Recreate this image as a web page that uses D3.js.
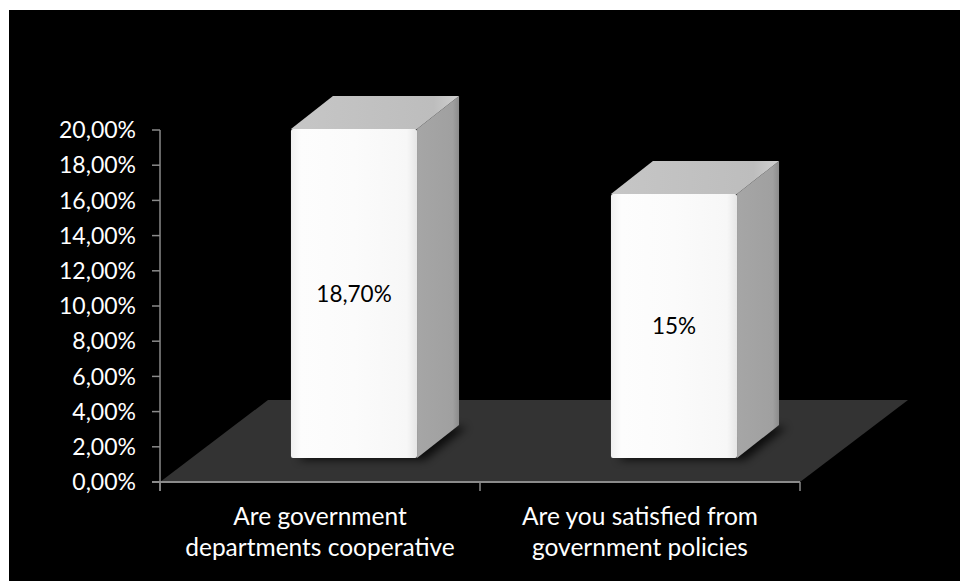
<!DOCTYPE html>
<html>
<head>
<meta charset="utf-8">
<script src="https://cdn.jsdelivr.net/npm/d3@7"></script>
<style>
  html, body { margin: 0; padding: 0; background: #ffffff; }
  svg { display: block; }
  text { font-family: "Lato", "Open Sans", sans-serif; }
</style>
</head>
<body>
<svg id="chart" width="960" height="581"></svg>
<script>
// Survey results
const categories = [
  ["Are government", "departments cooperative"],
  ["Are you satisfied from", "government policies"]
];
const values = [18.7, 15];
const valueLabels = ["18,70%", "15%"];
const yTicks = [0, 2, 4, 6, 8, 10, 12, 14, 16, 18, 20];
const yTickLabels = ["0,00%", "2,00%", "4,00%", "6,00%", "8,00%", "10,00%", "12,00%", "14,00%", "16,00%", "18,00%", "20,00%"];

const svg = d3.select("#chart");
const W = 960, H = 581;

// panel
svg.append("rect").attr("x", 9).attr("y", 10).attr("width", W - 9).attr("height", H - 10).attr("fill", "#000");

const x = d3.scaleBand().domain(d3.range(categories.length)).range([160, 800]).padding(0);
const y = d3.scaleLinear().domain([0, 20]).range([482, 130]);

// perspective offsets (floor depth, bar front plane, bar depth)
const floorDx = 108, floorDy = -82;
const frontDx = 34, frontDy = -24;
const depthDx = 42, depthDy = -33;
const barFrac = 0.394;

const defs = svg.append("defs");
const lg = (id, x2, y2, stops) => {
  const g = defs.append("linearGradient").attr("id", id).attr("x1", 0).attr("y1", 0).attr("x2", x2).attr("y2", y2);
  stops.forEach(([o, c]) => g.append("stop").attr("offset", o).attr("stop-color", c));
};
lg("gFront", 1, 0, [[0, "#f0f0f0"], [0.08, "#fdfdfd"], [0.5, "#fbfbfb"], [0.92, "#f7f7f7"], [1, "#e6e6e6"]]);
lg("gTop", 1, 0, [[0, "#c6c6c6"], [0.85, "#bdbdbd"], [1, "#d0d0d0"]]);
lg("gSide", 1, 0, [[0, "#a6a6a6"], [0.85, "#a0a0a0"], [1, "#8c8c8c"]]);
defs.append("filter").attr("id", "blur").attr("x", "-50%").attr("y", "-50%").attr("width", "200%").attr("height", "200%")
  .append("feGaussianBlur").attr("stdDeviation", 4);

// floor
const y0 = y(0);
svg.append("polygon")
  .attr("points", [[x.range()[0], y0], [x.range()[1], y0], [x.range()[1] + floorDx, y0 + floorDy], [x.range()[0] + floorDx, y0 + floorDy]].map(p => p.join(",")).join(" "))
  .attr("fill", "#333333");

// axes
const axisColor = "#8a8a8a";
svg.append("line").attr("x1", 160).attr("x2", 160).attr("y1", y(20)).attr("y2", y0 + 9)
  .attr("stroke", axisColor).attr("stroke-width", 1.5);
svg.append("line").attr("x1", 152).attr("x2", 800).attr("y1", y0).attr("y2", y0)
  .attr("stroke", axisColor).attr("stroke-width", 2);

const yt = svg.append("g");
yt.selectAll("line").data(yTicks).join("line")
  .attr("x1", 152).attr("x2", 160).attr("y1", d => y(d)).attr("y2", d => y(d))
  .attr("stroke", axisColor).attr("stroke-width", 1.5);
yt.selectAll("text").data(yTicks).join("text")
  .attr("x", 136).attr("y", d => y(d)).attr("dy", "0.36em")
  .attr("text-anchor", "end").attr("fill", "#fff").attr("font-size", 23)
  .text((d, i) => yTickLabels[i]);

const xEdges = [...x.domain().map(i => x(i)), x.range()[1]];
svg.append("g").selectAll("line").data(xEdges).join("line")
  .attr("x1", d => d).attr("x2", d => d).attr("y1", y0).attr("y2", y0 + 9)
  .attr("stroke", axisColor).attr("stroke-width", 1.5);

// category labels
const cat = svg.append("g").selectAll("text").data(categories).join("text")
  .attr("x", (d, i) => x(i) + x.bandwidth() / 2).attr("y", 525)
  .attr("text-anchor", "middle").attr("fill", "#fff").attr("font-size", 24.5);
cat.selectAll("tspan").data(d => d).join("tspan")
  .attr("x", function () { return this.parentNode.getAttribute("x"); })
  .attr("dy", (d, i) => i === 0 ? 0 : 31)
  .text(d => d);

// bars
const bars = svg.append("g").selectAll("g").data(values).join("g");
bars.each(function (v, i) {
  const g = d3.select(this);
  const bw = x.bandwidth() * barFrac;
  const cx = x(i) + x.bandwidth() / 2 + frontDx;
  const x0 = cx - bw / 2, x1 = cx + bw / 2;
  const yb = y(0) + frontDy, ytp = y(v) + frontDy;
  const pts = a => a.map(p => p.join(",")).join(" ");
  // base shadow on the floor
  g.append("polygon")
    .attr("points", pts([[x0 + 6, yb + 2], [x1 + 8, yb + 2], [x1 + depthDx + 8, yb + depthDy + 2], [x0 + depthDx + 6, yb + depthDy + 2]]))
    .attr("fill", "#000").attr("opacity", 0.75).attr("filter", "url(#blur)");
  // side
  g.append("polygon")
    .attr("points", pts([[x1, ytp], [x1 + depthDx, ytp + depthDy], [x1 + depthDx, yb + depthDy], [x1, yb]]))
    .attr("fill", "url(#gSide)");
  // top
  g.append("polygon")
    .attr("points", pts([[x0, ytp], [x1, ytp], [x1 + depthDx, ytp + depthDy], [x0 + depthDx, ytp + depthDy]]))
    .attr("fill", "url(#gTop)");
  // front
  g.append("rect").attr("x", x0).attr("y", ytp).attr("width", bw).attr("height", yb - ytp)
    .attr("rx", 2).attr("fill", "url(#gFront)");
  // value label, centred on the front face
  g.append("text")
    .attr("x", cx).attr("y", (yb + ytp) / 2).attr("dy", "0.36em")
    .attr("text-anchor", "middle").attr("fill", "#000").attr("font-size", 22.5)
    .text(valueLabels[i]);
});
</script>
</body>
</html>
